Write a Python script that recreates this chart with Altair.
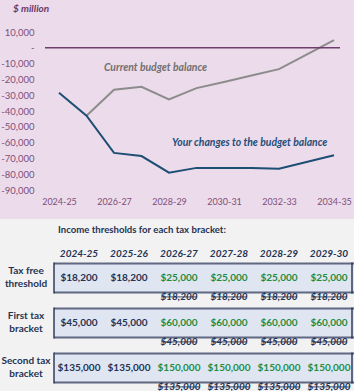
import altair as alt
import pandas as pd

# ---------------- data ----------------
years = ["2024-25", "2025-26", "2026-27", "2027-28", "2028-29", "2029-30",
         "2030-31", "2031-32", "2032-33", "2033-34", "2034-35"]
changes = [-28500, -43000, -66500, -68500, -79000, -76000, -76000, -76000,
           -76500, -72300, -68000]
current = [None, -43000, -26500, -24700, -32700, -25500, -21600, -17500,
           -13500, -4300, 4900]
x_label_years = years[::2]
y_ticks = [10000, 0, -10000, -20000, -30000, -40000, -50000, -60000,
           -70000, -80000, -90000]

ann_text = ["Current budget balance", "Your changes to the budget balance"]
ann_year = ["2026-27", "2028-29"]
ann_value = [-13000, -60000]

table_title = "Income thresholds for each tax bracket:"
t_years = ["2024-25", "2025-26", "2026-27", "2027-28", "2028-29", "2029-30"]
row_labels = ["Tax free\nthreshold", "First tax\nbracket", "Second tax\nbracket"]
current_thr = [18200, 45000, 135000]
new_thr = [
    [18200, 18200, 25000, 25000, 25000, 25000],
    [45000, 45000, 60000, 60000, 60000, 60000],
    [135000, 135000, 150000, 150000, 150000, 150000],
]

# ---------------- styles ----------------
FONT = "Lato"
PINK = "#ecdbea"
TABLE_BG = "#f2f2f2"
BOX_FILL = "#dfe5f1"
NAVY = "#263253"
GREEN = "#1e8c3f"
AXIS_COL = "#7d4f7b"
TITLE_COL = "#6b3a68"
ZERO_COL = "#6e3d6c"
GREY = "#8c8c8c"
GREY_TXT = "#707070"
BLUE = "#1d4e74"
BLUE_TXT = "#1f4e79"

# ---------------- top chart ----------------
line_df = pd.DataFrame({
    "year": years * 2,
    "value": changes + current,
    "series": ["changes"] * len(years) + ["current"] * len(years),
})
ann_df = pd.DataFrame({"text": ann_text, "year": ann_year, "value": ann_value})
zero_df = pd.DataFrame({"year": [years[0]], "year_end": [years[-1]], "value": [0]})

x_enc = alt.X(
    "year:N",
    scale=alt.Scale(type="point", domain=years, range=[59, 334], padding=0),
    axis=alt.Axis(values=x_label_years, title=None, labelAngle=0, domain=False,
                  ticks=False, grid=False, labelPadding=7, labelFontSize=9,
                  labelColor=AXIS_COL, labelFont=FONT),
)
y_enc = alt.Y(
    "value:Q",
    scale=alt.Scale(domain=[-90000, 10000], nice=False, zero=False),
    axis=alt.Axis(values=y_ticks, tickCount=len(y_ticks), title=None,
                  domain=False, ticks=False, grid=False, labelPadding=11,
                  labelFontSize=9.5, offset=-45, labelColor=AXIS_COL,
                  labelFont=FONT, labelOverlap=False,
                  labelExpr="datum.value == 0 ? '-  ' : (datum.value < 0 ? '-' : '') + format(abs(datum.value), ',')"),
)

base = alt.Chart(line_df)
blue_line = base.transform_filter("datum.series == 'changes'").mark_line(
    color=BLUE, strokeWidth=2).encode(x=x_enc, y=y_enc)
grey_line = base.transform_filter("datum.series == 'current' && isValid(datum.value)").mark_line(
    color=GREY, strokeWidth=2).encode(x=x_enc, y=y_enc)
zero_rule = alt.Chart(zero_df).mark_rule(
    color=ZERO_COL, strokeWidth=1.5, xOffset=-14, x2Offset=6).encode(
    x="year:N", x2="year_end:N", y="value:Q")

ann_grey = alt.Chart(ann_df.iloc[[0]]).mark_text(
    align="left", baseline="middle", font=FONT, fontSize=10.4, fontStyle="italic",
    fontWeight="bold", color=GREY_TXT, dx=-10).encode(
    x="year:N", y="value:Q", text="text:N")
ann_blue = alt.Chart(ann_df.iloc[[1]]).mark_text(
    align="left", baseline="middle", font=FONT, fontSize=10.4, fontStyle="italic",
    fontWeight="bold", color=BLUE_TXT, dx=3).encode(
    x="year:N", y="value:Q", text="text:N")

top = alt.layer(grey_line, blue_line, zero_rule, ann_grey, ann_blue).properties(
    width=354, height=158,
    title=alt.Title("$ million", anchor="start", frame="bounds", fontSize=10,
                    fontStyle="italic", fontWeight="bold", color=TITLE_COL,
                    font=FONT, offset=17, dx=13, dy=4),
)

# ---------------- table ----------------
row_ids = ["title", "header", "r1", "s1", "r2", "s2", "r3", "s3"]
cells = []
for i in range(3):
    for j, yr in enumerate(t_years):
        v = new_thr[i][j]
        changed = v != current_thr[i]
        cells.append({"row": f"r{i+1}", "col": yr, "txt": f"${v:,}",
                      "kind": "new" if changed else "same",
                      "edge": "first" if j == 0 else ("last" if j == len(t_years) - 1 else "mid")})
        if changed:
            cells.append({"row": f"s{i+1}", "col": yr,
                          "txt": f"${current_thr[i]:,}", "kind": "old",
                          "edge": "wide" if current_thr[i] >= 100000 else "narrow"})
cells_df = pd.DataFrame(cells)
labels_df = pd.DataFrame({"row": ["r1", "r2", "r3"], "col": ["label"] * 3,
                          "txt": row_labels})
header_df = pd.DataFrame({"row": ["header"] * 6, "col": t_years, "txt": t_years})
title_df = pd.DataFrame({"row": ["title"], "col": [t_years[0]], "txt": [table_title]})

tx = alt.X("col:N", scale=alt.Scale(domain=["label"] + t_years, range=[4, 354],
                                     paddingInner=0, paddingOuter=0), axis=None)
ty = alt.Y("row:N", scale=alt.Scale(domain=row_ids, range=[0.65, 180.7],
                                     paddingInner=0, paddingOuter=0), axis=None)

tbase = alt.Chart(cells_df)
main_cells = tbase.transform_filter("datum.kind != 'old'")
box_fill = main_cells.mark_rect(height=29, yOffset=2, fill=BOX_FILL,
                                strokeWidth=0).encode(x=tx, y=ty)
box_top = main_cells.mark_tick(orient="horizontal", size=50, thickness=2,
                               color=NAVY, yOffset=-12.5).encode(x=tx, y=ty)
box_bot = main_cells.mark_tick(orient="horizontal", size=50, thickness=2,
                               color=NAVY, yOffset=16.5).encode(x=tx, y=ty)
box_left = tbase.transform_filter("datum.edge == 'first'").mark_tick(
    orient="vertical", size=31, thickness=2, color=NAVY, xOffset=-25,
    yOffset=2).encode(x=tx, y=ty)
box_right = tbase.transform_filter("datum.edge == 'last'").mark_tick(
    orient="vertical", size=31, thickness=2, color=NAVY, xOffset=23,
    yOffset=2).encode(x=tx, y=ty)

vals = main_cells.mark_text(font=FONT, fontSize=10, fontWeight="bold", dy=1.6).encode(
    x=tx, y=ty, text="txt:N",
    color=alt.Color("kind:N", scale=alt.Scale(domain=["same", "new"],
                                              range=[NAVY, GREEN]), legend=None))
old_cells = tbase.transform_filter("datum.kind == 'old'")
olds = old_cells.mark_text(
    font=FONT, fontSize=10, fontWeight="bold", fontStyle="italic", dy=-1.5,
    color=NAVY, clip=True).encode(x=tx, y=ty, text="txt:N")
strike_n = tbase.transform_filter("datum.edge == 'narrow'").mark_tick(
    orient="horizontal", size=36, thickness=1.2, color=NAVY, yOffset=-1.5,
    clip=True).encode(x=tx, y=ty)
strike_w = tbase.transform_filter("datum.edge == 'wide'").mark_tick(
    orient="horizontal", size=42, thickness=1.2, color=NAVY, yOffset=-1.5,
    clip=True).encode(x=tx, y=ty)
labels = alt.Chart(labels_df).mark_text(
    font=FONT, fontSize=10, fontWeight="bold", color=NAVY, lineBreak="\n",
    lineHeight=13, dx=-3, dy=-4.5).encode(x=tx, y=ty, text="txt:N")
headers = alt.Chart(header_df).mark_text(
    font=FONT, fontSize=10, fontWeight="bold", fontStyle="italic", color=NAVY,
    dy=1).encode(x=tx, y=ty, text="txt:N")
ttitle = alt.Chart(title_df).mark_text(
    font=FONT, fontSize=9.6, fontWeight="bold", color=NAVY, align="left",
    dx=-21, dy=-1).encode(x=tx, y=ty, text="txt:N")

table = alt.layer(box_fill, box_top, box_bot, box_left, box_right, vals, olds,
                  strike_n, strike_w, labels, headers, ttitle).properties(
    width=354, height=172,
    view=alt.ViewBackground(fill=TABLE_BG, stroke=None),
)

chart = alt.vconcat(top, table, spacing=13).properties(
    padding={"top": 4, "left": 0, "right": 0, "bottom": 0}, background=PINK,
).configure_view(stroke=None).configure_axis(labelOverlap=False)

chart.save("out.html", embed_options={"renderer": "svg", "actions": False})
